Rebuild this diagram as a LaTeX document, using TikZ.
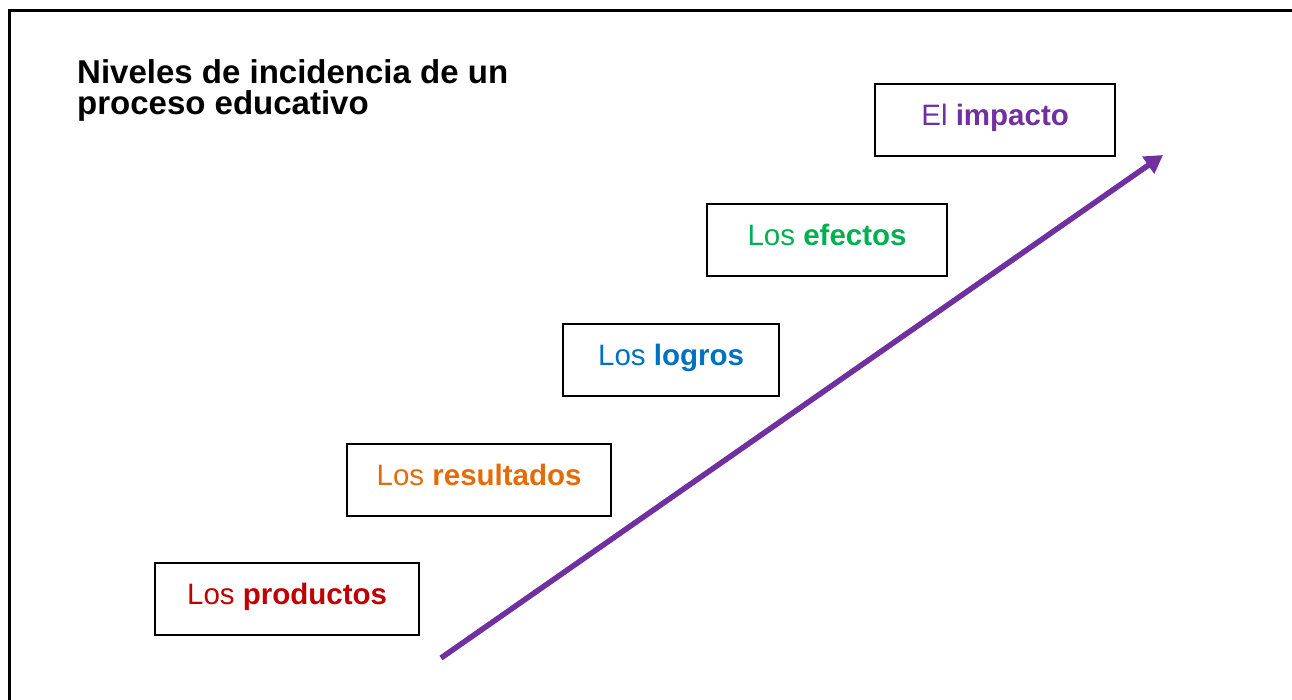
\documentclass[tikz,border=0pt]{standalone}
\usepackage{fontspec}
\setmainfont{Liberation Sans}
\usepackage{tikz}
\usetikzlibrary{arrows.meta}

\definecolor{prodred}{HTML}{C00000}
\definecolor{resorange}{HTML}{E36C09}
\definecolor{logblue}{HTML}{0070C0}
\definecolor{efegreen}{HTML}{00B050}
\definecolor{imppurple}{HTML}{7030A0}

\tikzset{
  levelbox/.style={draw, line width=2.2pt, inner xsep=0pt, inner ysep=0pt,
    text height=41pt, text depth=31pt, anchor=north west,
    font=\fontsize{29.5}{34}\selectfont},
  growarrow/.style={imppurple, line width=5.5pt,
    -{Triangle[length=18pt,width=20pt]}}
}

\begin{document}
\begin{tikzpicture}[x=1pt,y=-1pt]
\useasboundingbox (0,0) rectangle (1292,700);
\draw[line width=3pt] (9,700) -- (9,11) -- (1292,11);
\node[anchor=north west, align=left, inner sep=0pt,
  font=\fontsize{33}{31}\selectfont\bfseries] (title) at (77,59)
  {Niveles de incidencia de un\\proceso educativo};
\node[levelbox, minimum width=264pt, text=prodred] (prod) at (154,562)
  {Los \textbf{productos}};
\node[levelbox, minimum width=264pt, text=resorange] (res) at (346,443)
  {Los \textbf{resultados}};
\node[levelbox, minimum width=216pt, text=logblue] (log) at (562,323)
  {Los \textbf{logros}};
\node[levelbox, minimum width=240pt, text=efegreen] (efe) at (706,203)
  {Los \textbf{efectos}};
\node[levelbox, minimum width=240pt, text=imppurple] (imp) at (874,83)
  {El \textbf{impacto}};
\coordinate (start) at (441,658);
\coordinate (tip) at (1163,155);
\draw[growarrow] (start) -- (tip);
\end{tikzpicture}
\end{document}
